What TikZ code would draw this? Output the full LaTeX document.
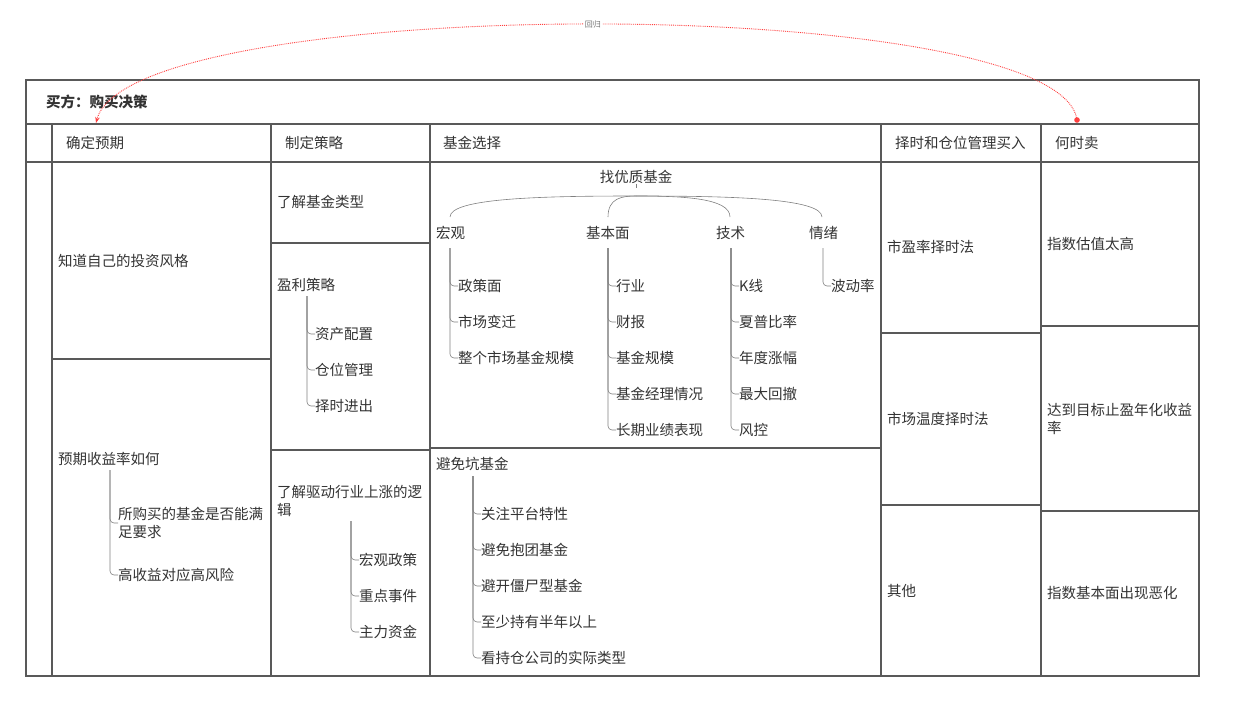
\documentclass[tikz,border=0pt]{standalone}
\usepackage{fontspec}
\setmainfont{Noto Sans CJK SC}
\usetikzlibrary{positioning}
\usetikzlibrary{arrows.meta}
\tikzset{txt/.style={anchor=west,inner sep=0pt,font=\fontsize{14.5}{18}\selectfont,text=black!80,align=left}}
\tikzset{grid/.style={draw=black!65,line width=1.4pt}}
\tikzset{br/.style={draw=black!50,line width=0.6pt,rounded corners=4pt}}

\begin{document}
\begin{tikzpicture}[x=1pt,y=-1pt]
        \useasboundingbox (0,0) rectangle (1240,717);
        % table
        \draw[grid] (26,80) rectangle (1199,676);
        \draw[grid] (26,124) -- (1199,124);
        \draw[grid] (26,162) -- (1199,162);
        \foreach \x in {52,271,430,881,1041} \draw[grid] (\x,124) -- (\x,676);
        \draw[grid] (52,359) -- (271,359);
        \draw[grid] (271,243) -- (430,243);
        \draw[grid] (271,450) -- (430,450);
        \draw[grid] (430,448) -- (881,448);
        \draw[grid] (881,333) -- (1041,333);
        \draw[grid] (881,505) -- (1041,505);
        \draw[grid] (1041,326) -- (1199,326);
        \draw[grid] (1041,511) -- (1199,511);

        \node[txt,font=\fontsize{14.5}{18}\selectfont\bfseries] (title) at (46,102) {买方：购买决策};
        \node[txt] (h1) at (66,143) {确定预期};
        \node[txt] (h2) at (285,143) {制定策略};
        \node[txt] (h3) at (443,143) {基金选择};
        \node[txt] (h4) at (895,143) {择时和仓位管理买入};
        \node[txt] (h5) at (1055,143) {何时卖};

        % col 1
        \node[txt] (style) at (58,261) {知道自己的投资风格};
        \node[txt] (rate) at (58,459) {预期收益率如何};
        \node[txt] (r1) at (118,523) {所购买的基金是否能满\\足要求};
        \node[txt] (r2) at (118,575) {高收益对应高风险};
        \foreach \c in {r1,r2} \draw[br] (110,470) |- (\c.west);

        % col 2
        \node[txt] (type) at (277,202) {了解基金类型};
        \node[txt] (profit) at (277,285) {盈利策略};
        \node[txt] (p1) at (315,334) {资产配置};
        \node[txt] (p2) at (315,370) {仓位管理};
        \node[txt] (p3) at (315,406) {择时进出};
        \foreach \c in {p1,p2,p3} \draw[br] (307,296) |- (\c.west);
        \node[txt] (logic) at (277,501) {了解驱动行业上涨的逻\\辑};
        \node[txt] (l1) at (359,560) {宏观政策};
        \node[txt] (l2) at (359,596) {重点事件};
        \node[txt] (l3) at (359,632) {主力资金};
        \foreach \c in {l1,l2,l3} \draw[br] (351,521) |- (\c.west);

        % col 3
        \node[txt,anchor=center] (good) at (636,177) {找优质基金};
        \node[txt] (macro) at (436,233) {宏观};
        \node[txt] (fund) at (586,233) {基本面};
        \node[txt] (tech) at (716,233) {技术};
        \node[txt] (mood) at (809,233) {情绪};
        \draw[br] (good.south) -- ++(0,4);
        \foreach \x in {450,608,730,822}
            \draw[black!50,line width=0.6pt] (636,196) .. controls ({(636+\x)/2},196) and (\x,198) .. (\x,217);
        \node[txt] (m1) at (458,286) {政策面};
        \node[txt] (m2) at (458,322) {市场变迁};
        \node[txt] (m3) at (458,358) {整个市场基金规模};
        \foreach \c in {m1,m2,m3} \draw[br] (450,248) |- (\c.west);
        \node[txt] (f1) at (616,286) {行业};
        \node[txt] (f2) at (616,322) {财报};
        \node[txt] (f3) at (616,358) {基金规模};
        \node[txt] (f4) at (616,394) {基金经理情况};
        \node[txt] (f5) at (616,430) {长期业绩表现};
        \foreach \c in {f1,f2,f3,f4,f5} \draw[br] (608,248) |- (\c.west);
        \node[txt] (t1) at (739,286) {K线};
        \node[txt] (t2) at (739,322) {夏普比率};
        \node[txt] (t3) at (739,358) {年度涨幅};
        \node[txt] (t4) at (739,394) {最大回撤};
        \node[txt] (t5) at (739,430) {风控};
        \foreach \c in {t1,t2,t3,t4,t5} \draw[br] (731,248) |- (\c.west);
        \node[txt] (v1) at (831,286) {波动率};
        \draw[br] (823,248) |- (v1.west);
        \node[txt] (avoid) at (436,464) {避免坑基金};
        \node[txt] (a1) at (481,514) {关注平台特性};
        \node[txt] (a2) at (481,550) {避免抱团基金};
        \node[txt] (a3) at (481,586) {避开僵尸型基金};
        \node[txt] (a4) at (481,622) {至少持有半年以上};
        \node[txt] (a5) at (481,658) {看持仓公司的实际类型};
        \foreach \c in {a1,a2,a3,a4,a5} \draw[br] (473,476) |- (\c.west);

        % col 4
        \node[txt] (pe) at (887,247) {市盈率择时法};
        \node[txt] (temp) at (887,419) {市场温度择时法};
        \node[txt] (other) at (887,591) {其他};

        % col 5
        \node[txt] (high) at (1047,244) {指数估值太高};
        \node[txt] (target) at (1047,419) {达到目标止盈年化收益\\率};
        \node[txt] (worse) at (1047,593) {指数基本面出现恶化};

        % loop back
        \coordinate (src) at (1077,120);
        \coordinate (dst) at (96,123);
        \fill[red!75] (src) circle (2.8);
        \draw[red!75,densely dotted,line width=0.9pt,-{Stealth[length=6pt]}] (src) .. controls (1060,-8) and (130,-8) .. (dst)
            node[pos=0.5,fill=white,inner sep=1pt,font=\fontsize{8}{9}\selectfont\itshape,text=black!55] (back) {回归};
    \end{tikzpicture}
\end{document}
